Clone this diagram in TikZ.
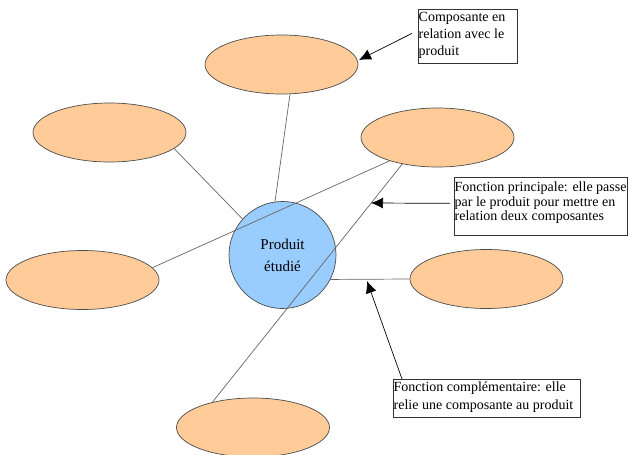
\documentclass[tikz,border=0pt]{standalone}
\usepackage{fontspec}
\setmainfont{Liberation Serif}
\usetikzlibrary{shapes.geometric,arrows.meta}
\definecolor{orangefill}{HTML}{FFCC99}
\definecolor{bluefill}{HTML}{99CCFF}
\begin{document}
\begin{tikzpicture}[x=1pt,y=-1pt,
  comp/.style={ellipse, draw=black!70, fill=orangefill, minimum width=153pt, minimum height=59pt, inner sep=0pt, line width=0.7pt},
  prod/.style={circle, draw=black!70, fill=bluefill, minimum size=107pt, inner sep=0pt, line width=0.7pt, align=center, font=\fontsize{15}{22}\selectfont},
  link/.style={draw=black!60, line width=0.7pt},
  note/.style={draw=black!80, line width=0.7pt, inner sep=0pt, anchor=north west},
  notetext/.style={anchor=north west, inner sep=0pt, align=left},
  callout/.style={-{Latex[length=12pt,width=11pt]}, line width=0.7pt, black}]

\useasboundingbox (0,0) rectangle (630,455);

% components
\node[comp] (top) at (281.5,64.5) {};
\node[comp] (ul) at (109.5,132.5) {};
\node[comp] (ur) at (437.5,137.5) {};
\node[comp] (left) at (82.5,280) {};
\node[comp] (right) at (486.5,279) {};
\node[comp] (bot) at (253,427.5) {};
\node[prod] (p) at (282.5,255) {Produit\\étudié};

% links
\draw[link] (top.-74) -- (p.98);
\draw[link] (ul.-14) -- (p.138);
\draw[link] (left.10.6) -- (ur.206.3);
\draw[link] (bot.148) -- (ur.217);
\draw[link] (p.-27) -- (right.west);

% notes
\node[note, minimum width=99pt, minimum height=54pt] (n1) at (418,9) {};
\node[notetext, font=\fontsize{14}{17}\selectfont] (t1) at (418.5,12) {Composante en\\relation avec le\\produit};

\node[note, minimum width=173pt, minimum height=58pt] (n2) at (454,177) {};
\node[notetext, font=\fontsize{14}{14.5}\selectfont] (t2) at (454.5,182) {Fonction principale: elle passe\\par le produit pour mettre en\\relation deux composantes};

\node[note, minimum width=187pt, minimum height=38pt] (n3) at (393,379) {};
\node[notetext, font=\fontsize{14}{17.5}\selectfont] (t3) at (393.5,382) {Fonction complémentaire: elle\\relie une composante au produit};

% callout arrows
\coordinate (h1) at (359,60);
\coordinate (h2) at (371,203);
\coordinate (h3) at (367,281);
\draw[callout] ([xshift=-6pt,yshift=3pt]n1.west) -- (h1);
\draw[callout] ([xshift=-4pt,yshift=3pt]n2.west) -- (h2);
\draw[callout] ([xshift=9pt]n3.north west) -- (h3);
\end{tikzpicture}
\end{document}
